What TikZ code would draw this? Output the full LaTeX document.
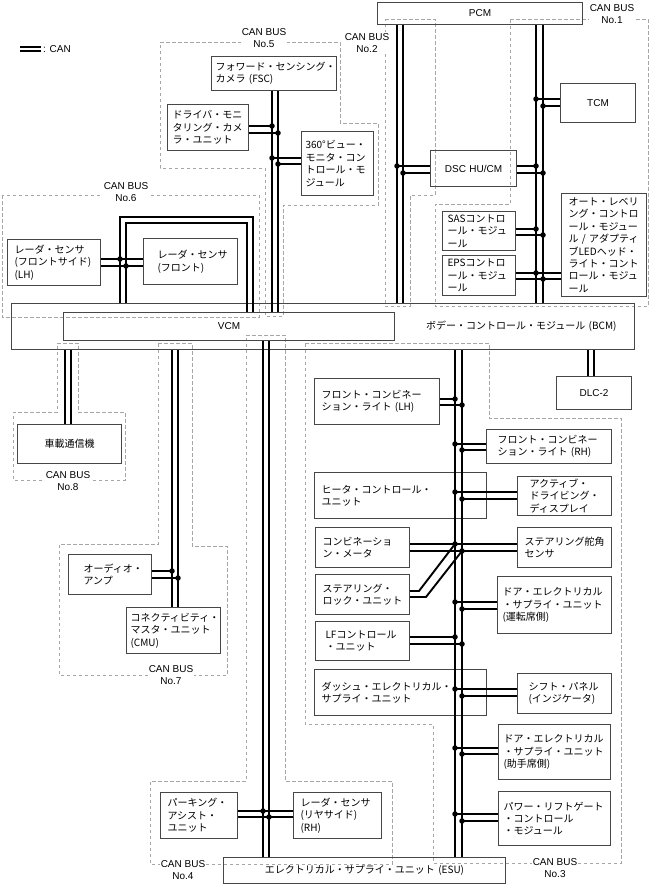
\documentclass[tikz,border=0pt]{standalone}
\usepackage{fontspec}
\setmainfont{Noto Sans CJK JP}
\newfontfamily\enfont{Liberation Sans}
\begin{document}
\begin{tikzpicture}[x=1pt,y=-1pt,
  font=\fontsize{10}{12.4}\selectfont,
  ecu/.style={draw=black!72, line width=1.1pt, anchor=north west, inner xsep=7pt, inner ysep=1pt, align=left},
  ctr/.style={ecu, align=center},
  en/.style={font=\enfont\fontsize{10}{12.4}\selectfont},
  can/.style={line width=1.9pt},
  tap/.style={circle, fill, inner sep=0pt, minimum size=5.5pt},
  zone/.style={draw=black!35, dash pattern=on 3.5pt off 2.5pt, line width=0.6pt},
  busname/.style={en, align=center, fill=white, inner sep=1pt}]
\useasboundingbox (0,0) rectangle (649,884);
% Bereiche
\draw[zone] (160,42) -- (340,42) -- (340,123) -- (378,123) -- (378,205) -- (283,205) -- (283,316) -- (265,316) -- (265,168) -- (160,168) -- cycle;
\draw[zone] (2,195) rectangle (259,317);
\draw[zone] (385,19) -- (435,19) -- (435,195) -- (410,195) -- (410,306) -- (385,306) -- cycle;
\draw[zone] (510,19) -- (648,19) -- (648,306) -- (435,306) -- (435,204) -- (510,204) -- cycle;
\draw[zone] (305,343) -- (489,343) -- (489,418) -- (621,418) -- (621,863) -- (433,863) -- (433,724) -- (305,724) -- cycle;
\draw[zone] (246,335) -- (285,335) -- (285,781) -- (392,781) -- (392,864) -- (150,864) -- (150,781) -- (246,781) -- cycle;
\draw[zone] (57,343) -- (78,343) -- (78,412) -- (125,412) -- (125,480) -- (13,480) -- (13,412) -- (57,412) -- cycle;
\draw[zone] (158,343) -- (192,343) -- (192,546) -- (227,546) -- (227,675) -- (59,675) -- (59,544) -- (158,544) -- cycle;
\node[busname] (bus1) at (612,14) {CAN BUS\\No.1};
\node[busname] (bus2) at (367,43) {CAN BUS\\No.2};
\node[busname] (bus5) at (264,38) {CAN BUS\\No.5};
\node[busname] (bus6) at (126,192) {CAN BUS\\No.6};
\node[busname] (bus8) at (68,481) {CAN BUS\\No.8};
\node[busname] (bus7) at (171,675) {CAN BUS\\No.7};
\node[busname] (bus4) at (183,870) {CAN BUS\\No.4};
\node[busname] (bus3) at (555,868) {CAN BUS\\No.3};
% Legende
\draw[can] (20,47) -- (41,47);
\draw[can] (20,51) -- (41,51);
\node[en, anchor=west, inner sep=1pt] (legend) at (42,49) {: CAN};
% Steuergeraete
\node[ctr, en, text width=191pt, minimum height=22pt] (pcm) at (377,2) {PCM};
\node[ctr, en, text width=61pt, minimum height=39pt] (tcm) at (560,83) {TCM};
\node[ctr, en, text width=72pt, minimum height=36pt] (dsc) at (430,150) {DSC HU/CM};
\node[ecu, inner xsep=5pt, text width=63pt, minimum height=39pt] (sas) at (442,211) {SASコントロ\\ール・モジュ\\ール};
\node[ecu, inner xsep=5pt, text width=63pt, minimum height=40pt] (eps) at (442,255) {EPSコントロ\\ール・モジュ\\ール};
\node[ecu, text width=71pt, minimum height=103pt] (alev) at (561,193) {オート・レベリ\\ング・コントロ\\ール・モジュー\\ル / アダプティ\\ブLEDヘッド・\\ライト・コント\\ロール・モジュ\\ール};
\node[ecu, inner xsep=4pt, text width=117pt, minimum height=34pt] (fsc) at (211,56) {フォワード・センシング・\\カメラ (FSC)};
\node[ecu, inner xsep=5pt, text width=71pt, minimum height=46pt] (dmc) at (167,104) {ドライバ・モニ\\タリング・カメ\\ラ・ユニット};
\node[ecu, inner xsep=4pt, text width=64pt, minimum height=64pt] (svm) at (301,131) {360°ビュー・\\モニタ・コン\\トロール・モ\\ジュール};
\node[ecu, text width=79pt, minimum height=46pt] (rdl) at (7,239) {レーダ・センサ\\(フロントサイド)\\(LH)};
\node[ecu, inner xsep=14pt, text width=66pt, minimum height=46pt] (rdf) at (143,238) {レーダ・センサ\\(フロント)};
\node[ecu, align=right, inner xsep=18pt, text width=587pt, minimum height=46pt] (bcm) at (11,303) {ボデー・コントロール・モジュール (BCM)};
\node[ctr, en, text width=317pt, minimum height=28pt] (vcm) at (63,312) {VCM};
\node[ctr, en, text width=61pt, minimum height=33pt] (dlc) at (556,376) {DLC-2};
\node[ecu, text width=111pt, minimum height=46pt] (fcl) at (314,378) {フロント・コンビネー\\ション・ライト (LH)};
\node[ecu, inner xsep=11pt, text width=103pt, minimum height=34pt] (fcr) at (486,429) {フロント・コンビネー\\ション・ライト (RH)};
\node[ecu, text width=158pt, minimum height=46pt] (htr) at (314,472) {ヒータ・コントロール・\\ユニット};
\node[ecu, inner xsep=12pt, text width=70pt, minimum height=39pt] (add) at (517,476) {アクティブ・\\ドライビング・\\ディスプレイ};
\node[ecu, text width=80pt, minimum height=40pt] (cmt) at (315,527) {コンビネーショ\\ン・メータ};
\node[ecu, text width=80pt, minimum height=40pt] (angle) at (517,527) {ステアリング舵角\\センサ};
\node[ecu, text width=80pt, minimum height=40pt] (slu) at (315,574) {ステアリング・\\ロック・ユニット};
\node[ecu, inner xsep=5pt, text width=104pt, minimum height=57pt] (dsd) at (497,576) {ドア・エレクトリカル\\・サプライ・ユニット\\(運転席側)};
\node[ecu, inner xsep=10pt, text width=74pt, minimum height=39pt] (lfc) at (315,621) {LFコントロール\\・ユニット};
\node[ecu, text width=158pt, minimum height=46pt] (des) at (314,669) {ダッシュ・エレクトリカル・\\サプライ・ユニット};
\node[ecu, inner xsep=11pt, text width=72pt, minimum height=40pt] (sfp) at (517,673) {シフト・パネル\\(インジケータ)};
\node[ecu, inner xsep=5pt, text width=102pt, minimum height=55pt] (dsp) at (498,724) {ドア・エレクトリカル\\・サプライ・ユニット\\(助手席側)};
\node[ecu, inner xsep=5pt, text width=102pt, minimum height=54pt] (plg) at (498,791) {パワー・リフトゲート\\・コントロール\\・モジュール};
\node[ctr, text width=268pt, minimum height=26pt] (esu) at (223,857) {エレクトリカル・サプライ・ユニット (ESU)};
\node[ecu, text width=63pt, minimum height=46pt] (pas) at (160,792) {パーキング・\\アシスト・\\ユニット};
\node[ecu, text width=74pt, minimum height=46pt] (rdr) at (293,792) {レーダ・センサ\\(リヤサイド)\\(RH)};
\node[ctr, text width=90pt, minimum height=39pt] (tcu) at (17,424) {車載通信機};
\node[ecu, inner xsep=15pt, text width=53pt, minimum height=40pt] (amp) at (68,554) {オーディオ・\\アンプ};
\node[ecu, inner xsep=4pt, text width=86pt, minimum height=46pt] (cmu) at (126,607) {コネクティビティ・\\マスタ・ユニット\\(CMU)};
% Busleitungen
\coordinate (n1a) at (536,0); \coordinate (n1b) at (543,0);
\coordinate (n2a) at (397,0); \coordinate (n2b) at (403,0);
\coordinate (n3a) at (455,0); \coordinate (n3b) at (462,0);
\coordinate (n4a) at (263,0); \coordinate (n4b) at (269,0);
\coordinate (n5a) at (272,0); \coordinate (n5b) at (278,0);
\coordinate (n6a) at (120,217); \coordinate (n6b) at (126,223);
\coordinate (n6c) at (247,223); \coordinate (n6d) at (253,217);
\coordinate (n7a) at (172,0); \coordinate (n7b) at (178,0);
\coordinate (n8a) at (65,0); \coordinate (n8b) at (71,0);
\coordinate (dlca) at (588,0); \coordinate (dlcb) at (594,0);
\coordinate (bend1) at (419,591); \coordinate (bend2) at (426,597);
\draw[can] (pcm.south -| n2a) -- (bcm.north -| n2a);
\draw[can] (pcm.south -| n2b) -- (bcm.north -| n2b);
\draw[can] (pcm.south -| n1a) -- (bcm.north -| n1a);
\draw[can] (pcm.south -| n1b) -- (bcm.north -| n1b);
\draw[can] (fsc.south -| n5a) -- (vcm.north -| n5a);
\draw[can] (fsc.south -| n5b) -- (vcm.north -| n5b);
\draw[can] (bcm.north -| n6a) -- (n6a) -- (n6d) -- (vcm.north -| n6d);
\draw[can] (bcm.north -| n6b) -- (n6b) -- (n6c) -- (vcm.north -| n6c);
\draw[can] (bcm.south -| n3a) -- (esu.north -| n3a);
\draw[can] (bcm.south -| n3b) -- (esu.north -| n3b);
\draw[can] (vcm.south -| n4a) -- (esu.north -| n4a);
\draw[can] (vcm.south -| n4b) -- (esu.north -| n4b);
\draw[can] (bcm.south -| n7a) -- (cmu.north -| n7a);
\draw[can] (bcm.south -| n7b) -- (cmu.north -| n7b);
\draw[can] (bcm.south -| n8a) -- (tcu.north -| n8a);
\draw[can] (bcm.south -| n8b) -- (tcu.north -| n8b);
\draw[can] (bcm.south -| dlca) -- (dlc.north -| dlca);
\draw[can] (bcm.south -| dlcb) -- (dlc.north -| dlcb);
% Abzweige No.1 / No.2
\draw[can] (tcm.west |- 0,99) -- (n1a |- 0,99) node[tap]{};
\draw[can] (tcm.west |- 0,106) -- (n1b |- 0,106) node[tap]{};
\draw[can] (dsc.east |- 0,166) -- (n1a |- 0,166) node[tap]{};
\draw[can] (dsc.east |- 0,173) -- (n1b |- 0,173) node[tap]{};
\draw[can] (sas.east |- 0,229) -- (n1a |- 0,229) node[tap]{};
\draw[can] (sas.east |- 0,235) -- (n1b |- 0,235) node[tap]{};
\draw[can] (eps.east |- 0,273) -- (n1a |- 0,273) node[tap]{} -- (alev.west |- 0,273);
\draw[can] (eps.east |- 0,279) -- (n1b |- 0,279) node[tap]{} -- (alev.west |- 0,279);
\draw[can] (dsc.west |- 0,166) -- (n2a |- 0,166) node[tap]{};
\draw[can] (dsc.west |- 0,173) -- (n2b |- 0,173) node[tap]{};
% Abzweige No.5 / No.6
\draw[can] (dmc.east |- 0,126) -- (n5a |- 0,126) node[tap]{};
\draw[can] (dmc.east |- 0,133) -- (n5b |- 0,133) node[tap]{};
\draw[can] (svm.west |- 0,158) -- (n5a |- 0,158) node[tap]{};
\draw[can] (svm.west |- 0,164) -- (n5b |- 0,164) node[tap]{};
\draw[can] (rdl.east |- 0,259) -- (n6a |- 0,259) node[tap]{} -- (rdf.west |- 0,259);
\draw[can] (rdl.east |- 0,266) -- (n6b |- 0,266) node[tap]{} -- (rdf.west |- 0,266);
% Abzweige No.3
\draw[can] (fcl.east |- 0,399) -- (n3a |- 0,399) node[tap]{};
\draw[can] (fcl.east |- 0,405) -- (n3b |- 0,405) node[tap]{};
\draw[can] (fcr.west |- 0,444) -- (n3a |- 0,444) node[tap]{};
\draw[can] (fcr.west |- 0,450) -- (n3b |- 0,450) node[tap]{};
\draw[can] (add.west |- 0,492) -- (n3a |- 0,492) node[tap]{};
\draw[can] (add.west |- 0,499) -- (n3b |- 0,499) node[tap]{};
\draw[can] (cmt.east |- 0,544) -- (n3a |- 0,544) node[tap]{} -- (angle.west |- 0,544);
\draw[can] (cmt.east |- 0,551) -- (n3b |- 0,551) node[tap]{} -- (angle.west |- 0,551);
\draw[can] (slu.east |- bend1) -- (bend1) -- (n3a |- 0,544);
\draw[can] (slu.east |- bend2) -- (bend2) -- (n3b |- 0,551);
\draw[can] (dsd.west |- 0,602) -- (n3a |- 0,602) node[tap]{};
\draw[can] (dsd.west |- 0,609) -- (n3b |- 0,609) node[tap]{};
\draw[can] (lfc.east |- 0,637) -- (n3a |- 0,637) node[tap]{};
\draw[can] (lfc.east |- 0,644) -- (n3b |- 0,644) node[tap]{};
\draw[can] (sfp.west |- 0,689) -- (n3a |- 0,689) node[tap]{};
\draw[can] (sfp.west |- 0,696) -- (n3b |- 0,696) node[tap]{};
\draw[can] (dsp.west |- 0,748) -- (n3a |- 0,748) node[tap]{};
\draw[can] (dsp.west |- 0,754) -- (n3b |- 0,754) node[tap]{};
\draw[can] (plg.west |- 0,814) -- (n3a |- 0,814) node[tap]{};
\draw[can] (plg.west |- 0,821) -- (n3b |- 0,821) node[tap]{};
% Abzweige No.7 / No.4
\draw[can] (amp.east |- 0,571) -- (n7a |- 0,571) node[tap]{};
\draw[can] (amp.east |- 0,578) -- (n7b |- 0,578) node[tap]{};
\draw[can] (pas.east |- 0,811) -- (n4a |- 0,811) node[tap]{} -- (rdr.west |- 0,811);
\draw[can] (pas.east |- 0,817) -- (n4b |- 0,817) node[tap]{} -- (rdr.west |- 0,817);
\end{tikzpicture}
\end{document}
